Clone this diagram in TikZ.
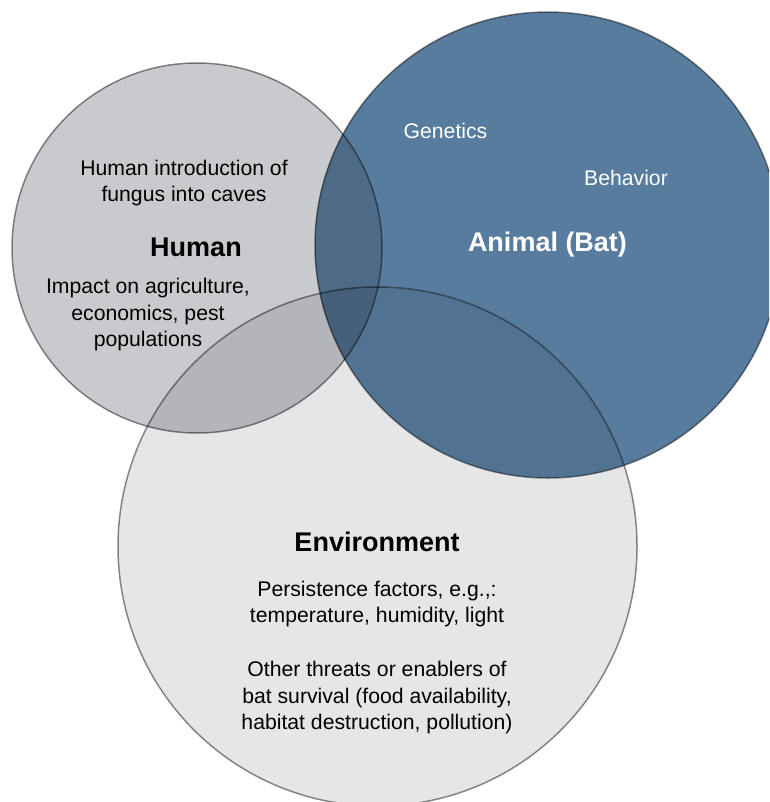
\documentclass[tikz,border=0pt]{standalone}
\usepackage{fontspec}
\setmainfont{Liberation Sans}
\definecolor{humanc}{HTML}{C9CACE}
\definecolor{animalc}{HTML}{587C9E}
\definecolor{envc}{HTML}{E5E6E8}
\definecolor{hec}{HTML}{B4B5BA}
\definecolor{aec}{HTML}{517391}
\definecolor{hac}{HTML}{4D6A86}
\definecolor{haec}{HTML}{46607B}
\tikzset{
  rim/.style={draw=black, draw opacity=0.45, line width=1.5pt},
  title/.style={font=\bfseries\fontsize{27}{32}\selectfont, align=center},
  body/.style={font=\fontsize{21.2}{26.5}\selectfont, align=center, text=black},
  bodyw/.style={font=\fontsize{21.2}{26.5}\selectfont, align=center, text=white},
}
\begin{document}
\begin{tikzpicture}[x=1pt,y=-1pt]
\useasboundingbox (0,0) rectangle (769,802);
\begin{scope}
\clip (0,0) rectangle (769,802);
\fill[white] (0,0) rectangle (769,802);
% base fills
\fill[humanc] (197,248) circle (185);
\fill[animalc] (548,245) circle (233);
\fill[envc] (377.5,546.5) circle (259.5);
% pairwise overlaps
\begin{scope}
  \clip (197,248) circle (185);
  \fill[hec] (377.5,546.5) circle (259.5);
\end{scope}
\begin{scope}
  \clip (548,245) circle (233);
  \fill[aec] (377.5,546.5) circle (259.5);
\end{scope}
\begin{scope}
  \clip (548,245) circle (233);
  \fill[hac] (197,248) circle (185);
\end{scope}
\begin{scope}
  \clip (548,245) circle (233);
  \clip (197,248) circle (185);
  \fill[haec] (377.5,546.5) circle (259.5);
\end{scope}
% rims
\draw[rim] (197,248) circle (185);
\draw[rim] (548,245) circle (233);
\draw[rim] (377.5,546.5) circle (259.5);
\end{scope}
% texts
\node[body] (hintro) at (184,183) {Human introduction of\\fungus into caves};
\node[title] (human) at (196,247) {Human};
\node[body] (himpact) at (148,315) {Impact on agriculture,\\economics, pest\\populations};
\node[bodyw] (gen) at (445.5,131) {Genetics};
\node[bodyw] (beh) at (626,178) {Behavior};
\node[title, text=white] (animal) at (547.5,245) {Animal (Bat)};
\node[title] (env) at (377,542) {Environment};
\node[body] (pers) at (377,604) {Persistence factors, e.g.,:\\temperature, humidity, light};
\node[body] (other) at (377,698) {Other threats or enablers of\\bat survival (food availability,\\habitat destruction, pollution)};
\end{tikzpicture}
\end{document}
